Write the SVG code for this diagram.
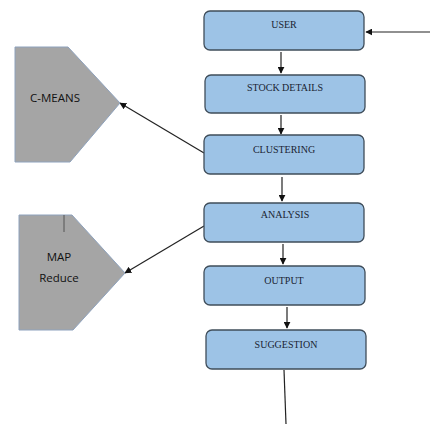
<svg xmlns="http://www.w3.org/2000/svg" width="430" height="424" viewBox="0 0 430 424">
<style>
.box{fill:#9dc3e6;stroke:#3f4d5a;stroke-width:1.3}
.pent{fill:#a5a5a5;stroke:#8ea2bd;stroke-width:1}
.bt{font-family:"Liberation Serif",serif;font-size:10px;fill:#1a2433;text-anchor:middle}
.pt{font-family:"Open Sans","Liberation Sans",sans-serif;font-size:11.5px;fill:#111;text-anchor:middle}
.ln{stroke:#222;stroke-width:1.2;fill:none}
</style>
<defs>
<marker id="ah" viewBox="0 0 10 10" refX="9" refY="5" markerWidth="7" markerHeight="7" markerUnits="userSpaceOnUse" orient="auto">
<path d="M0,0 L10,5 L0,10 z" fill="#111"/>
</marker>
</defs>
<rect width="430" height="424" fill="#fff"/>
<g id="connectors">
<line class="ln" x1="430" y1="32" x2="366" y2="32" marker-end="url(#ah)"/>
<line class="ln" x1="281" y1="52" x2="281" y2="73" marker-end="url(#ah)"/>
<line class="ln" x1="281" y1="115" x2="281" y2="134" marker-end="url(#ah)"/>
<line class="ln" x1="282" y1="177" x2="282" y2="201" marker-end="url(#ah)"/>
<line class="ln" x1="283" y1="244" x2="283" y2="264" marker-end="url(#ah)"/>
<line class="ln" x1="287" y1="307" x2="287" y2="328" marker-end="url(#ah)"/>
<line class="ln" x1="284" y1="370" x2="286" y2="424"/>
<line class="ln" x1="204" y1="153" x2="120" y2="103" marker-end="url(#ah)"/>
<line class="ln" x1="204" y1="226" x2="125" y2="273" marker-end="url(#ah)"/>
</g>
<g id="user"><rect class="box" x="204" y="11" width="160" height="39" rx="6"/><text class="bt" x="284" y="28">USER</text></g>
<g id="stock"><rect class="box" x="205" y="75" width="160" height="38" rx="6"/><text class="bt" x="285" y="91">STOCK DETAILS</text></g>
<g id="clustering"><rect class="box" x="204" y="135" width="160" height="39" rx="6"/><text class="bt" x="284" y="153">CLUSTERING</text></g>
<g id="analysis"><rect class="box" x="204" y="203" width="160" height="39" rx="6"/><text class="bt" x="285" y="218">ANALYSIS</text></g>
<g id="output"><rect class="box" x="204" y="266" width="161" height="39" rx="6"/><text class="bt" x="284" y="284">OUTPUT</text></g>
<g id="suggestion"><rect class="box" x="206" y="330" width="160" height="39" rx="6"/><text class="bt" x="286" y="348">SUGGESTION</text></g>
<g id="cmeans"><polygon class="pent" points="15,47 68,47 120,103 70,162 15,162"/><text class="pt" x="55" y="102">C-MEANS</text></g>
<g id="mapreduce"><polygon class="pent" points="19,215 72,215 125,273 73,330 19,330"/><line x1="64" y1="215" x2="64" y2="232" stroke="#555" stroke-width="1"/><text class="pt" x="59" y="261">MAP</text><text class="pt" x="59" y="282">Reduce</text></g>
</svg>
